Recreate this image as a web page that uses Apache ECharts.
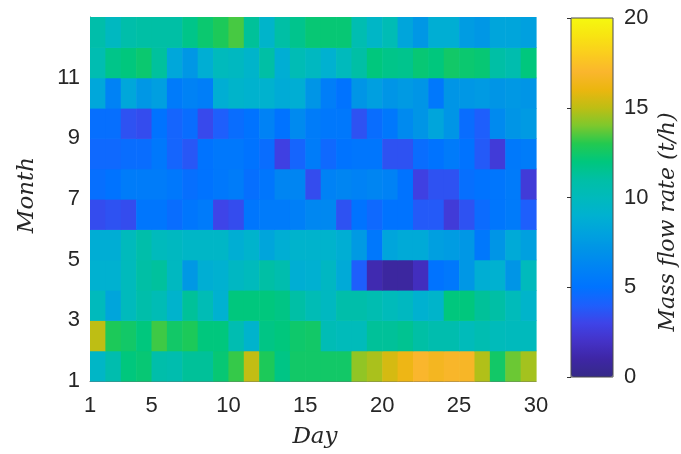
<!DOCTYPE html>
<html>
<head>
<meta charset="utf-8">
<script src="https://cdn.jsdelivr.net/npm/echarts@6/dist/echarts.min.js"></script>
<style>
  html, body { margin: 0; padding: 0; background: #fff; }
  #chart { width: 681px; height: 454px; }
</style>
</head>
<body>
<div id="chart"></div>
<script>
// Daily mass flow rate (t/h), one array per month, days 1..29
const days = [1, 2, 3, 4, 5, 6, 7, 8, 9, 10, 11, 12, 13, 14, 15, 16, 17, 18, 19, 20, 21, 22, 23, 24, 25, 26, 27, 28, 29];
const months = [1, 2, 3, 4, 5, 6, 7, 8, 9, 10, 11, 12];

const month01 = [9.5, 10.6, 12, 12.2, 10.8, 10.6, 11.3, 11.3, 12.2, 13.2, 15.1, 12.8, 11.8, 12.5, 12.5, 12.5, 12.5, 14.3, 14.7, 15.5, 16.2, 17, 16.6, 16.9, 16.8, 14.8, 12.5, 13.8, 14.6];
const month02 = [15, 12.8, 12.5, 12, 13.3, 12.5, 12.8, 12, 12, 10.5, 9.2, 11.8, 12, 12.4, 12.5, 10.3, 10.1, 10.1, 11.3, 11.3, 11.5, 11, 10.6, 10.6, 10.1, 10.5, 10.1, 10, 10];
const month03 = [10, 8.2, 10, 10.8, 10.3, 9.2, 11.3, 10.3, 9, 12, 12, 12, 11.8, 11, 10.3, 9.8, 10.8, 10.8, 10.5, 10.1, 9.8, 9, 9.3, 12, 12, 11.3, 11, 10.1, 9.3];
const month04 = [9, 9, 10, 11, 11.2, 9.8, 7.4, 8.8, 9, 9.7, 10, 11, 10.6, 8.8, 8.9, 9.7, 8.5, 4, 1.3, 0.8, 0.8, 1.7, 5, 5.3, 7.3, 8.8, 9, 7.2, 10];
const month05 = [8.7, 8.7, 10, 10.8, 10, 9.8, 9.5, 9.5, 9.5, 8.8, 9.2, 8.2, 8.8, 9.2, 9.2, 9.2, 8.8, 7.5, 5.3, 8.2, 8.5, 8.5, 7.8, 7.6, 7.3, 5.3, 7.2, 8.5, 7.9];
const month06 = [3.3, 3.5, 3.3, 5.2, 5.2, 4.7, 5.2, 5.5, 3, 3.3, 5.2, 5.5, 5.5, 5.8, 6.3, 6.4, 3.5, 5, 4.5, 5, 5, 3.8, 3.8, 2.5, 3.5, 4.6, 5.2, 5.5, 4];
const month07 = [4.8, 5, 5.6, 5.6, 5.6, 5.3, 4.8, 5, 5.3, 5.6, 4.8, 5.2, 6.2, 6.2, 3.3, 6, 6.2, 6, 6.2, 6, 5, 2.8, 3.5, 3.5, 4.8, 5, 5.2, 5.5, 2.5];
const month08 = [4.5, 4.5, 4.7, 4.7, 5.3, 4.3, 3.7, 5, 5.3, 5.3, 5, 4.7, 2.8, 4.3, 5.6, 4.5, 5, 5.2, 5.2, 3.5, 3.5, 4.7, 5, 5.5, 5, 3.8, 2.5, 5.4, 5.6];
const month09 = [4.8, 4.8, 3.5, 3.3, 5, 4.3, 4.7, 3.2, 4, 4.7, 5, 6, 5, 6.5, 5.6, 5.3, 5.3, 3.5, 4.7, 5.3, 6.5, 7.2, 8.2, 7.2, 4.7, 4, 6.5, 7.2, 7.5];
const month10 = [8.3, 6, 8.3, 7.3, 7.8, 5.5, 6, 5.7, 8.8, 9.3, 9.1, 9.1, 8.6, 8.8, 7.2, 5.7, 5, 7.2, 7.8, 7.2, 7.5, 7.2, 5.3, 7.2, 7.3, 7.5, 7.2, 7.4, 7.2];
const month11 = [10.5, 11.7, 12, 12.3, 11.2, 8.3, 7.3, 8.8, 10, 9.8, 9.3, 11, 8.8, 10.3, 9.8, 9, 10, 11, 12, 11.7, 11.6, 12.2, 12, 12.5, 12.3, 12.2, 11, 10.6, 12];
const month12 = [10.8, 9.8, 10.8, 11, 11, 11, 11.7, 12.3, 12.8, 13.4, 11.3, 9.3, 11, 11.6, 12.2, 12.2, 12.2, 10.5, 9.5, 10.3, 8.2, 7.3, 8.8, 8.8, 7.6, 7.3, 8.2, 8.2, 7.9];

const dayTicks = [1, 5, 10, 15, 20, 25, 30];
const monthTicks = [1, 3, 5, 7, 9, 11];
const flowRange = [0, 20];

// Parula-style colour ramp, one stop per t/h from 0 to 20
const parula = [
  '#352a87', '#3e26a5', '#4432c8', '#3e44e8', '#1e5ffc',
  '#0073ff', '#0082f5', '#0092e8', '#00a2de', '#00b1d0',
  '#00babc', '#00bfa5', '#00c77d', '#23c950', '#7dc82d',
  '#bebe14', '#ebb60f', '#fab62d', '#facd1e', '#f8e412', '#f5f80f'
];

const monthly = [month01, month02, month03, month04, month05, month06,
                 month07, month08, month09, month10, month11, month12];
const cells = [];
months.forEach((m, mi) => {
  days.forEach((d, di) => {
    cells.push([d, m, monthly[mi][di]]);
  });
});

const axisText = { color: '#262626', fontFamily: 'Liberation Sans, Arial, sans-serif', fontSize: 22 };
const titleFont = 'DejaVu Serif, serif';

const chart = echarts.init(document.getElementById('chart'), null, { renderer: 'canvas' });
chart.setOption({
  backgroundColor: '#ffffff',
  animation: false,
  grid: [
    { left: 90, top: 17, width: 446, height: 364 },
    { left: 571, top: 18, width: 42, height: 359, show: true, z: 10,
      borderColor: '#4d4d4d', borderWidth: 1, backgroundColor: 'transparent' }
  ],
  xAxis: [
    {
      gridIndex: 0, type: 'value', min: 1, max: 30, interval: 1,
      axisLine: { show: true, lineStyle: { color: '#6e6e6e', width: 1 } },
      axisTick: { show: false },
      splitLine: { show: false },
      axisLabel: Object.assign({}, axisText, {
        margin: 14,
        formatter: v => (dayTicks.indexOf(v) >= 0 ? String(v) : '')
      })
    },
    { gridIndex: 1, type: 'value', min: 0, max: 1, show: false }
  ],
  yAxis: [
    {
      gridIndex: 0, type: 'value', min: 1, max: 13, interval: 2,
      axisLine: { show: true, lineStyle: { color: '#6e6e6e', width: 1 } },
      axisTick: { show: false },
      splitLine: { show: false },
      axisLabel: Object.assign({}, axisText, {
        margin: 10,
        formatter: v => (monthTicks.indexOf(v) >= 0 ? String(v) : '')
      })
    },
    {
      gridIndex: 1, type: 'value', min: flowRange[0], max: flowRange[1], interval: 5,
      position: 'right', z: 10,
      axisLine: { show: false },
      axisTick: { show: true, inside: true, length: 4, lineStyle: { color: '#333' } },
      splitLine: { show: false },
      axisLabel: Object.assign({}, axisText, { margin: 11 })
    }
  ],
  visualMap: {
    type: 'continuous',
    min: flowRange[0], max: flowRange[1],
    dimension: 2, seriesIndex: 0,
    orient: 'vertical',
    left: 571, top: 18,
    itemWidth: 42, itemHeight: 359,
    padding: 0,
    calculable: false,
    hoverLink: false,
    text: null,
    showLabel: false,
    inRange: { color: parula }
  },
  series: [
    {
      type: 'custom',
      xAxisIndex: 0, yAxisIndex: 0,
      encode: { x: 0, y: 1 },
      data: cells,
      renderItem: (params, api) => {
        const d = api.value(0), m = api.value(1);
        const tl = api.coord([d, m + 1]);
        const br = api.coord([d + 1, m]);
        return {
          type: 'rect',
          shape: { x: tl[0], y: tl[1], width: br[0] - tl[0] + 0.6, height: br[1] - tl[1] + 0.6 },
          style: { fill: api.visual('color') }
        };
      }
    }
  ],
  graphic: [
    { type: 'text', position: [315, 437],
      style: { text: 'Day', font: 'italic 23px ' + titleFont, fill: '#262626', align: 'center', verticalAlign: 'middle' } },
    { type: 'text', position: [27, 195], rotation: Math.PI / 2,
      style: { text: 'Month', font: 'italic 23px ' + titleFont, fill: '#262626', align: 'center', verticalAlign: 'middle' } },
    { type: 'text', position: [668, 222], rotation: Math.PI / 2,
      style: { text: 'Mass flow rate (t/h)', font: 'italic 22px ' + titleFont, fill: '#262626', align: 'center', verticalAlign: 'middle' } }
  ]
});
</script>
</body>
</html>
